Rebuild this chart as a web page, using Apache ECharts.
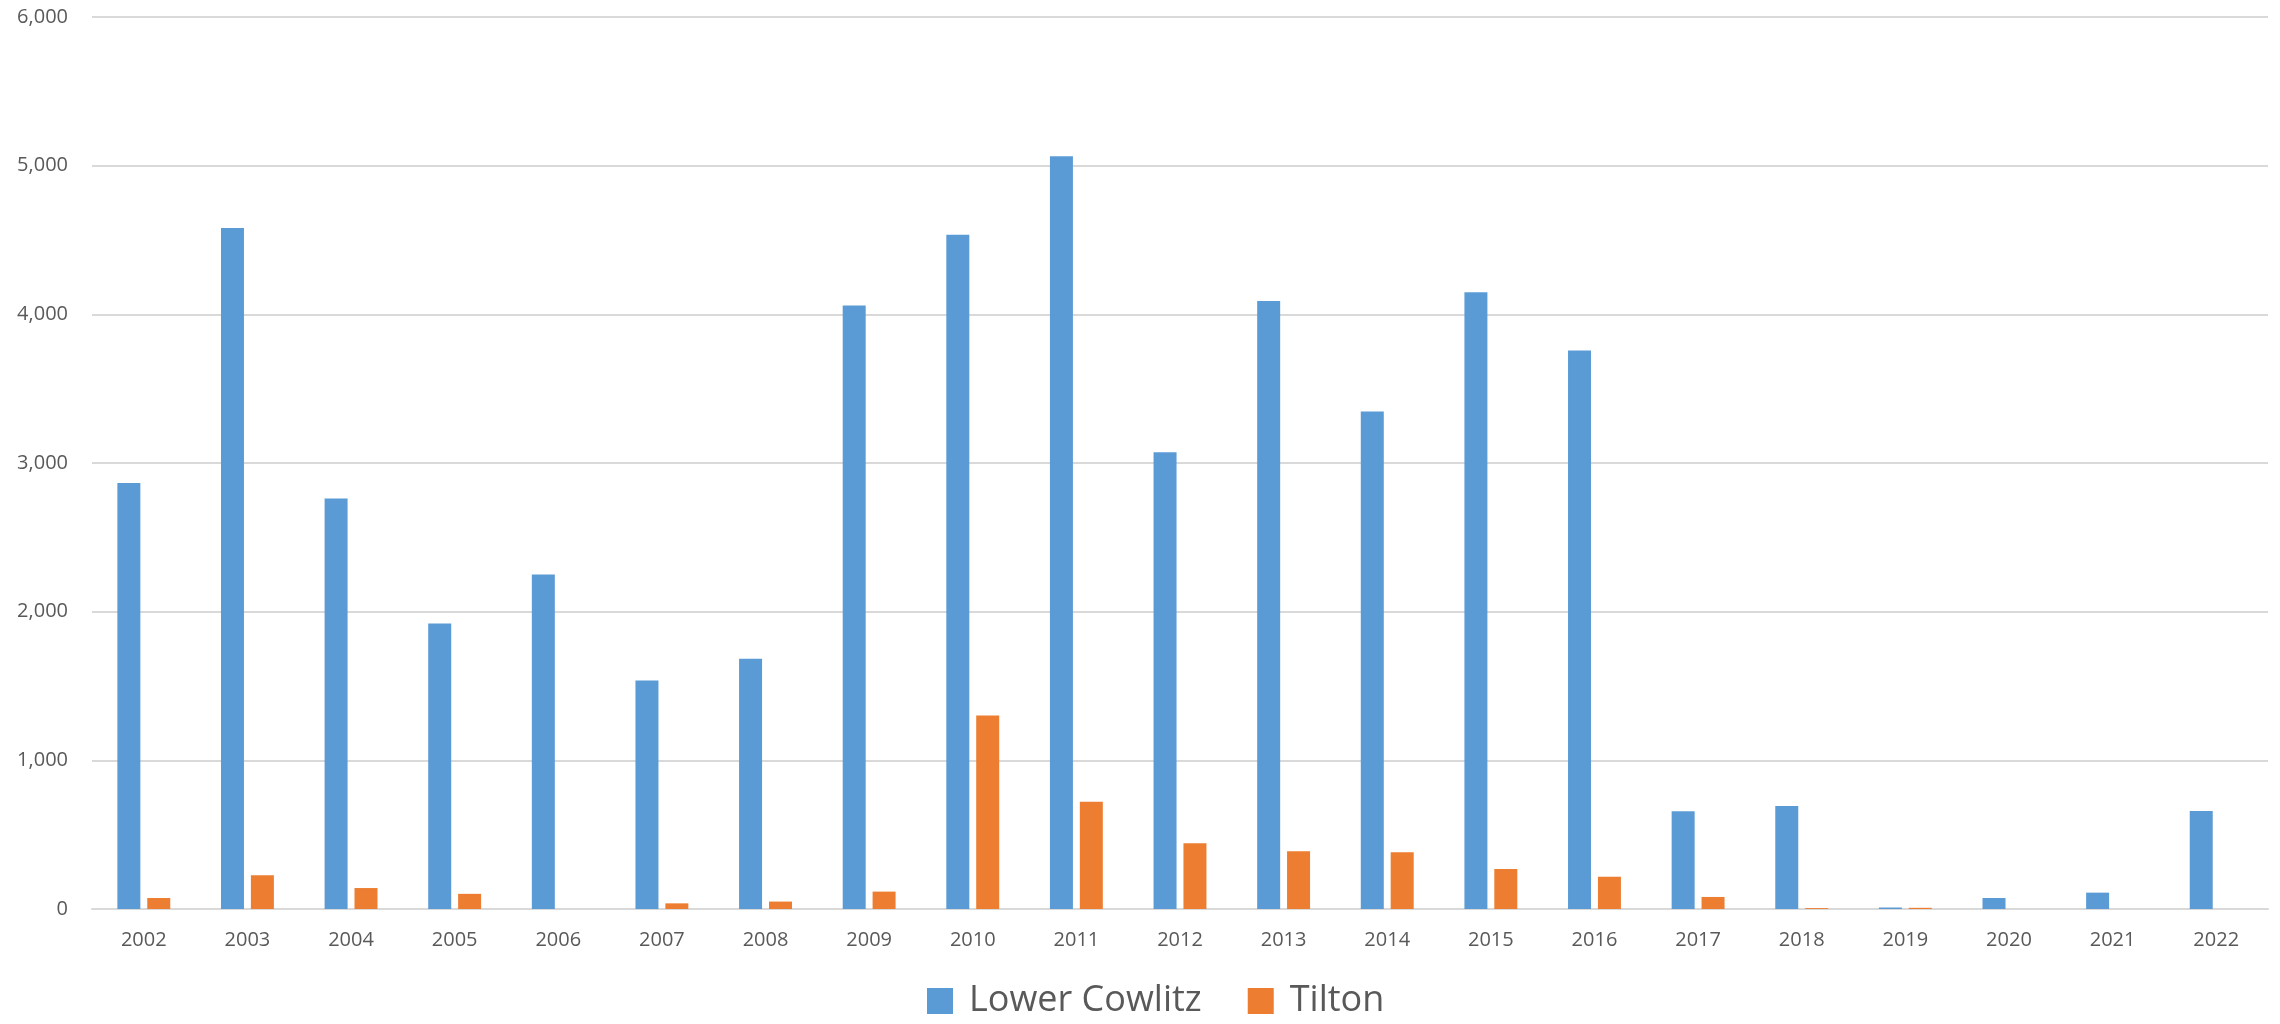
<!DOCTYPE html>
<html>
<head>
<meta charset="utf-8">
<script src="https://cdn.jsdelivr.net/npm/echarts@6/dist/echarts.min.js"></script>
<style>
  html, body { margin: 0; padding: 0; background: #fff; }
  #chart { width: 2280px; height: 1024px; }
</style>
</head>
<body>
<div id="chart"></div>
<script>
const years = ['2002', '2003', '2004', '2005', '2006', '2007', '2008', '2009', '2010', '2011', '2012',
  '2013', '2014', '2015', '2016', '2017', '2018', '2019', '2020', '2021', '2022']
const lowerCowlitz = [2865, 4580, 2762, 1920, 2250, 1537, 1684, 4060, 4535, 5063, 3073,
  4090, 3346, 4148, 3757, 657, 693, 10, 74, 110, 660]
const tilton = [74, 227, 141, 102, 0, 38, 50, 117, 1302, 722, 442,
  388, 381, 269, 217, 81, 6, 8, 0, 0, 0]

const textColor = '#595959'
const font = '"Open Sans", "Noto Sans", sans-serif'

let myChart = echarts.init(document.getElementById('chart'))
myChart.setOption({
  backgroundColor: '#ffffff',
  animation: false,
  textStyle: { fontFamily: font },
  grid: {
    left: 92,
    right: 12,
    top: 17,
    bottom: 115
  },
  legend: {
    left: 922,
    top: 978,
    itemWidth: 26,
    itemHeight: 26,
    itemGap: 46,
    icon: 'rect',
    textStyle: {
      color: textColor,
      fontSize: 36,
      fontFamily: font,
      padding: [0, 0, 0, 11] // 方块和文字之间的距离
    },
    data: ['Lower Cowlitz', 'Tilton']
  },
  xAxis: [{
    type: 'category',
    data: years,
    axisLine: {
      lineStyle: { color: '#d9d9d9', width: 2 }
    },
    axisTick: { show: false },
    axisLabel: {
      color: textColor,
      fontSize: 20,
      margin: 21
    }
  }],
  yAxis: [{
    type: 'value',
    min: 0,
    max: 6000,
    interval: 1000,
    axisLine: { show: false },
    axisTick: { show: false },
    splitLine: {
      show: true, // 水平网格线
      lineStyle: { color: '#d9d9d9', width: 2 }
    },
    axisLabel: {
      color: textColor,
      fontSize: 20,
      margin: 24,
      formatter (v) {
        return v.toLocaleString('en-US')
      }
    }
  }],
  series: [{
    name: 'Lower Cowlitz',
    type: 'bar',
    barWidth: 23,
    barGap: '30%',
    itemStyle: { color: '#5B9BD5' },
    data: lowerCowlitz
  }, {
    name: 'Tilton',
    type: 'bar',
    barWidth: 23,
    barGap: '30%',
    itemStyle: { color: '#ED7D31' },
    data: tilton
  }]
})
</script>
</body>
</html>
